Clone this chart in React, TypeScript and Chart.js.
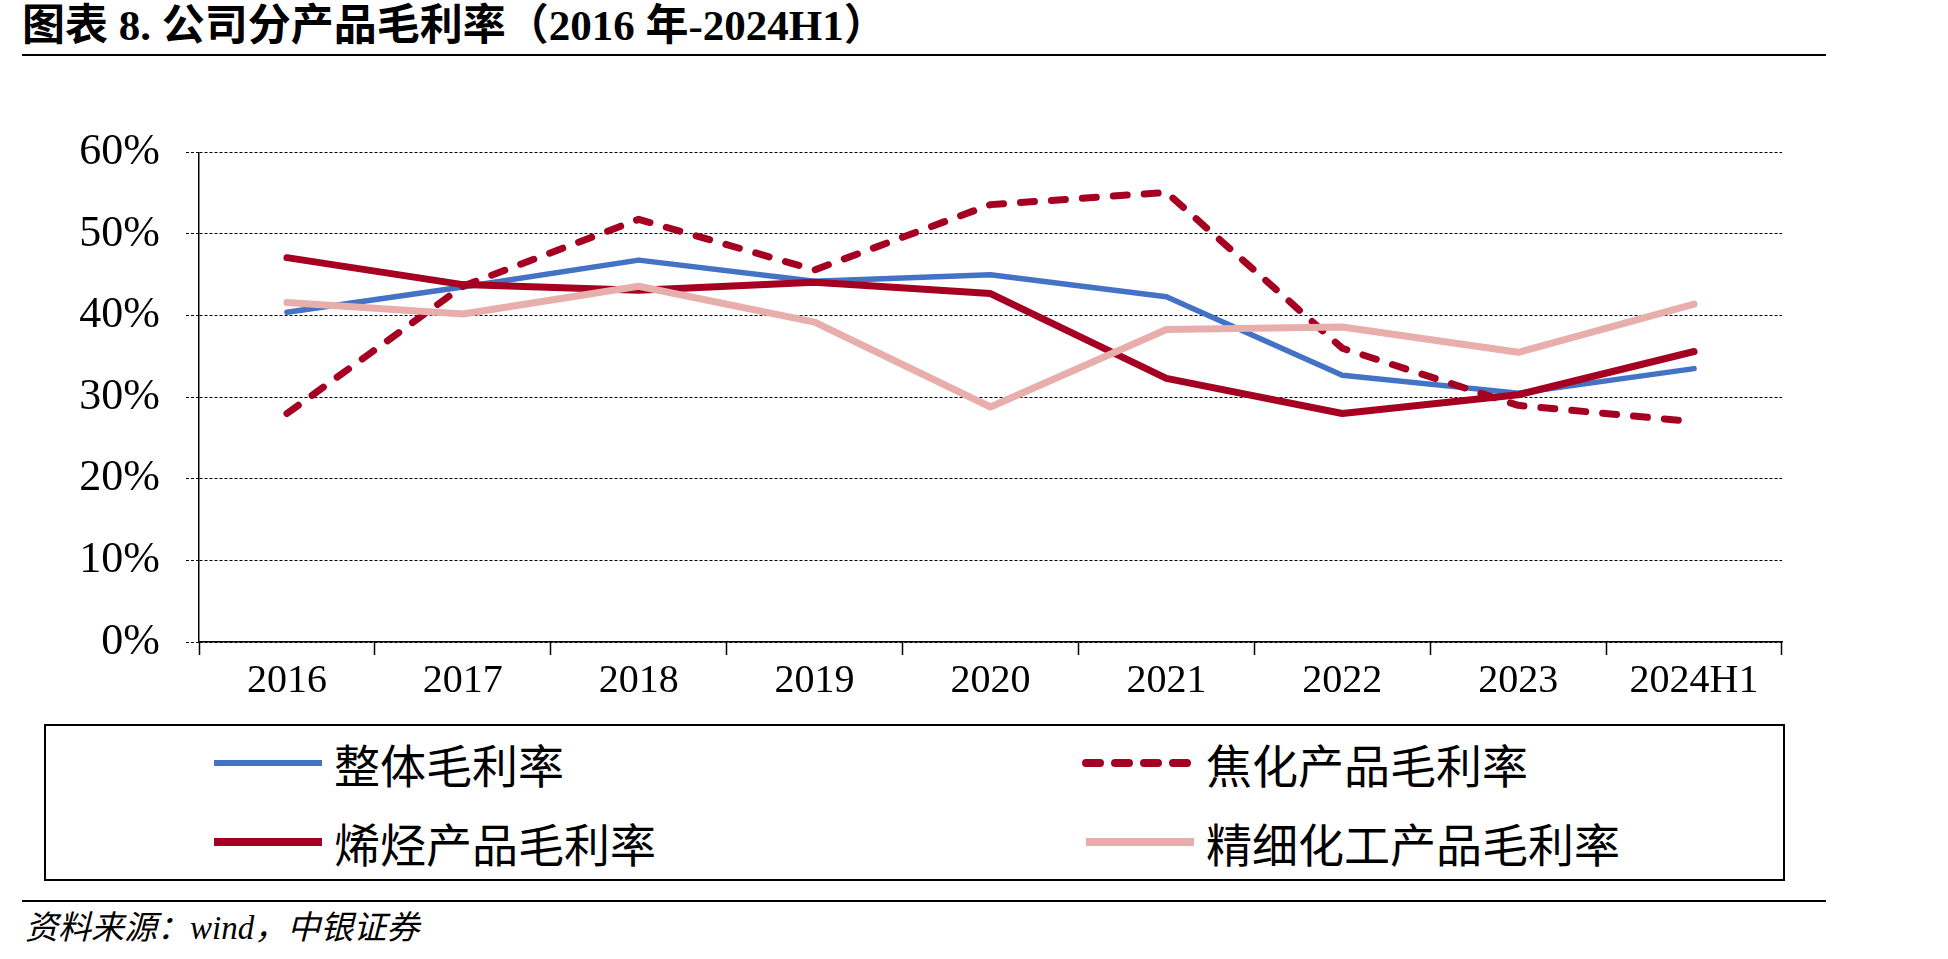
import React, { useEffect, useRef } from "react";
import { Chart, registerables } from "chart.js";

Chart.register(...registerables);

// Categories and gross-margin series (percent)
const categories = ["2016", "2017", "2018", "2019", "2020", "2021", "2022", "2023", "2024H1"];
const overallMargin = [40.4, 43.5, 46.8, 44.2, 45.0, 42.3, 32.7, 30.5, 33.5];
const cokingMargin = [28.0, 43.6, 51.8, 45.6, 53.6, 55.1, 36.0, 29.0, 27.0];
const olefinMargin = [47.1, 43.8, 43.1, 44.1, 42.7, 32.3, 28.0, 30.3, 35.6];
const fineChemMargin = [41.6, 40.2, 43.6, 39.2, 28.8, 38.3, 38.6, 35.5, 41.4];
const seriesNames = ["整体毛利率", "焦化产品毛利率", "烯烃产品毛利率", "精细化工产品毛利率"];
const yTicks = [0, 10, 20, 30, 40, 50, 60];

const titleText = "图表 8. 公司分产品毛利率（2016 年-2024H1）";
const sourceText = "资料来源：wind，中银证券";

const BLUE = "#4472C4";
const RED = "#A50021";
const PINK = "#E8AEAB";

const SERIF = '"Liberation Serif", "Times New Roman", "Noto Sans CJK SC", serif';
const CJK = '"Noto Sans CJK SC", "Liberation Serif", sans-serif';

const DASH = [14, 17];

function LegendSample({ color, width, dashed }: { color: string; width: number; dashed?: boolean }) {
  return (
    <svg width={116} height={14} style={{ display: "block" }}>
      <line
        x1={4}
        y1={7}
        x2={112}
        y2={7}
        stroke={color}
        strokeWidth={width}
        strokeLinecap={dashed ? "round" : "butt"}
        strokeDasharray={dashed ? "14 15" : undefined}
      />
    </svg>
  );
}

function LegendItem({
  left,
  cy,
  color,
  width,
  dashed,
  text,
}: {
  left: number;
  cy: number;
  color: string;
  width: number;
  dashed?: boolean;
  text: string;
}) {
  return (
    <div
      style={{
        position: "absolute",
        left,
        top: cy - 30,
        height: 60,
        display: "flex",
        alignItems: "center",
        whiteSpace: "nowrap",
      }}
    >
      <LegendSample color={color} width={width} dashed={dashed} />
      <span style={{ fontFamily: CJK, fontSize: 46, lineHeight: "60px", marginLeft: 8, color: "#000" }}>{text}</span>
    </div>
  );
}

export default function App() {
  const canvasRef = useRef<HTMLCanvasElement>(null);

  useEffect(() => {
    const canvas = canvasRef.current;
    if (!canvas) return;
    const chart = new Chart(canvas, {
      type: "line",
      data: {
        labels: categories,
        datasets: [
          { label: seriesNames[0], data: overallMargin, borderColor: BLUE, borderWidth: 5.5, order: 3 },
          { label: seriesNames[2], data: olefinMargin, borderColor: RED, borderWidth: 7, order: 2 },
          {
            label: seriesNames[1],
            data: cokingMargin,
            borderColor: RED,
            borderWidth: 7,
            borderDash: DASH,
            borderCapStyle: "round",
            order: 1,
          },
          { label: seriesNames[3], data: fineChemMargin, borderColor: PINK, borderWidth: 7, order: 0 },
        ],
      },
      options: {
        responsive: false,
        animation: false,
        devicePixelRatio: 1,
        layout: { padding: { left: 0, right: 166, top: 52, bottom: 0 } },
        plugins: {
          legend: { display: false },
          tooltip: { enabled: false },
          title: { display: false },
        },
        elements: {
          point: { radius: 0, hoverRadius: 0 },
          line: { tension: 0, borderCapStyle: "round", borderJoinStyle: "round", fill: false },
        },
        scales: {
          x: {
            type: "category",
            offset: true,
            grid: {
              offset: true,
              drawOnChartArea: false,
              drawTicks: true,
              tickLength: 13,
              color: "#000",
              tickColor: "#000",
              tickWidth: 1.5,
            },
            border: { display: true, color: "#000", width: 1.5 },
            ticks: {
              color: "#000",
              font: { family: SERIF, size: 40 },
              padding: 2,
              maxRotation: 0,
              autoSkip: false,
            },
            afterFit: (scale: any) => {
              scale.height = 78;
            },
          },
          y: {
            min: yTicks[0],
            max: yTicks[yTicks.length - 1],
            afterBuildTicks: (scale: any) => {
              scale.ticks = yTicks.map((v) => ({ value: v }));
            },
            ticks: {
              color: "#000",
              font: { family: SERIF, size: 44 },
              padding: 26,
              callback: (v: any) => `${v}%`,
            },
            grid: {
              color: "#000",
              lineWidth: 1,
              drawTicks: true,
              tickLength: 13,
              tickColor: "#000",
              tickWidth: 1,
              tickBorderDash: [3, 2],
            },
            border: { display: true, color: "#000", width: 1.5, dash: [3, 2] },
            afterFit: (scale: any) => {
              scale.width = 199;
            },
          },
        },
      },
    } as any);
    return () => chart.destroy();
  }, []);

  return (
    <div
      style={{
        position: "absolute",
        left: 0,
        top: 0,
        width: 1948,
        height: 959,
        overflow: "hidden",
        background: "#fff",
      }}
    >
      <div
        style={{
          position: "absolute",
          left: 22,
          top: 4,
          fontFamily: SERIF,
          fontWeight: "bold",
          fontSize: 43,
          lineHeight: "44px",
          whiteSpace: "nowrap",
          color: "#000",
        }}
      >
        {titleText}
      </div>
      <div style={{ position: "absolute", left: 22, top: 54, width: 1804, height: 2, background: "#000" }} />

      <canvas
        ref={canvasRef}
        width={1948}
        height={620}
        style={{ position: "absolute", left: 0, top: 100, width: 1948, height: 620 }}
      />

      <div
        style={{
          position: "absolute",
          left: 44,
          top: 724,
          width: 1741,
          height: 157,
          border: "2px solid #000",
          boxSizing: "border-box",
        }}
      />
      <LegendItem left={210} cy={763} color={BLUE} width={6} text={seriesNames[0]} />
      <LegendItem left={1082} cy={763} color={RED} width={8} dashed text={seriesNames[1]} />
      <LegendItem left={210} cy={842} color={RED} width={8} text={seriesNames[2]} />
      <LegendItem left={1082} cy={842} color={PINK} width={8} text={seriesNames[3]} />

      <div style={{ position: "absolute", left: 22, top: 900, width: 1804, height: 2, background: "#000" }} />
      <div
        style={{
          position: "absolute",
          left: 25,
          top: 908,
          fontFamily: SERIF,
          fontStyle: "italic",
          fontSize: 33,
          lineHeight: "40px",
          whiteSpace: "nowrap",
          color: "#000",
        }}
      >
        {sourceText}
      </div>
    </div>
  );
}
